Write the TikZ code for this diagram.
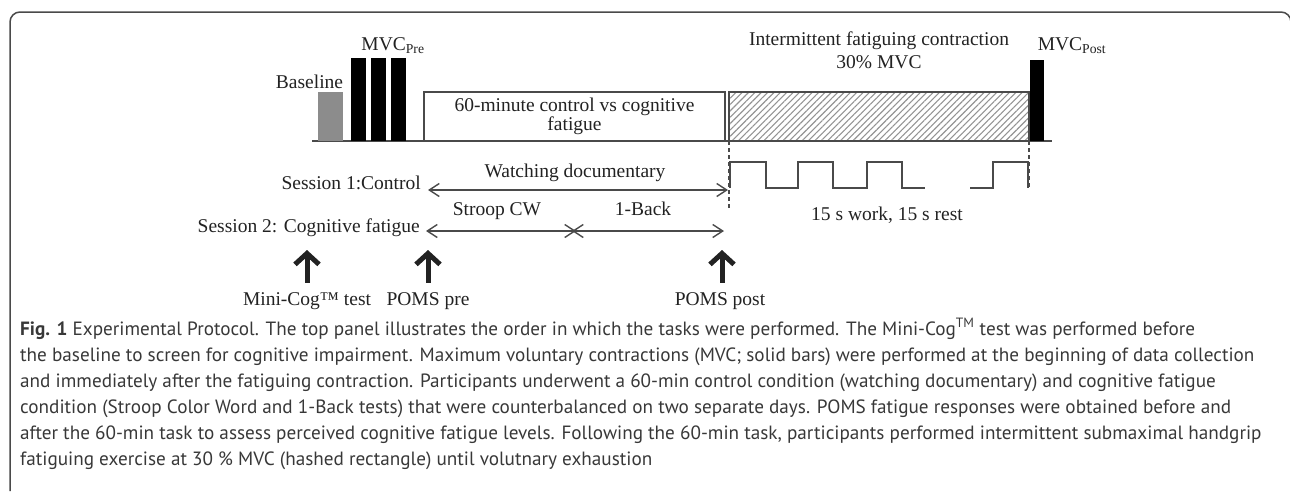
\documentclass[tikz,border=0pt]{standalone}
\usepackage{fontspec}
\setmainfont{Liberation Serif}
\newfontfamily\capfont{PT Sans}
\usetikzlibrary{arrows.meta,patterns.meta,positioning}
\definecolor{ink}{HTML}{222222}
\definecolor{linegray}{HTML}{4A4A4A}
\definecolor{basegray}{HTML}{8C8C8C}
\tikzset{
  lbl/.style={inner sep=0pt,text=ink,font=\fontsize{19.5}{19}\selectfont},
  taskbox/.style={draw=linegray,line width=1.4pt,inner sep=0pt},
  hatchbox/.style={taskbox,pattern={Lines[angle=45,distance=4.5pt,line width=1.1pt]},pattern color=gray!85},
  span/.style={{Straight Barb[length=10pt,width=13pt]}-{Straight Barb[length=10pt,width=13pt]},draw=linegray,line width=1.4pt},
  up/.style={-{Straight Barb[length=11pt,width=24pt]},line width=5pt,draw=ink},
  marker/.style={draw=linegray,line width=1.4pt,dash pattern=on 4pt off 3pt},
  capt/.style={inner sep=0pt,text=ink!90,align=left,font=\capfont\fontsize{19.2}{26}\selectfont},
}
\begin{document}
\begin{tikzpicture}[x=1pt,y=-1pt]
\useasboundingbox (0,0) rectangle (1290,491);
\draw[linegray,line width=1.5pt,rounded corners=10pt] (10,491) -- (10,12) -- (1291,12) -- (1291,40);
\draw[linegray,line width=1.4pt] (312,141) -- (1052,141);
\fill[basegray] (318,92) rectangle (343,141);
\foreach \x in {351,371,391}
  \fill[black] (\x,58) rectangle ++(15,83);
\fill[black] (1030,60) rectangle (1044,141);
\node[lbl,anchor=base] (baseline) at (309.5,88) {Baseline};
\node[lbl,anchor=base] (mvcpre) at (393,50) {MVC\textsubscript{Pre}};
\node[lbl,anchor=base] (mvcpost) at (1072,50) {MVC\textsubscript{Post}};
\node[taskbox,lbl,minimum width=301pt,minimum height=49pt,align=center] (task) at (574.5,116.5) {60-minute control vs cognitive\\fatigue};
\node[hatchbox,minimum width=300pt,minimum height=49pt] (fatiguing) at (879,116.5) {};
\node[lbl,align=center] (ifc) at (879,50) {Intermittent fatiguing contraction\\[4pt]30\% MVC};
\coordinate (startA) at (729,141);
\coordinate (endA) at (729,208);
\coordinate (startB) at (1029,141);
\coordinate (endB) at (1029,188);
\draw[marker] (startA) -- (endA);
\draw[marker] (startB) -- (endB);
\draw[linegray,line width=1.4pt] (730,188) -- (730,162) -- (766,162) -- (766,188) -- (798,188) -- (798,162)
  -- (833,162) -- (833,188) -- (867,188) -- (867,162) -- (902,162) -- (902,188) -- (925,188);
\draw[linegray,line width=1.4pt] (970,188) -- (993,188) -- (993,162) -- (1028,162) -- (1028,188);
\node[lbl,anchor=base] (work) at (887,220) {15 s work, 15 s rest};
\node[lbl,anchor=base east] (s1) at (421,189) {Session 1:Control};
\node[lbl,anchor=base east] (s2) at (420,232) {Session 2: Cognitive fatigue};
\coordinate (watchL) at (428,190);
\coordinate (watchR) at (728,190);
\coordinate (stroopL) at (426,231);
\coordinate (stroopR) at (576,231);
\coordinate (backL) at (572,231);
\coordinate (backR) at (724,231);
\draw[span] (watchL) -- (watchR);
\draw[span] (stroopL) -- (stroopR);
\draw[span] (backL) -- (backR);
\node[lbl,anchor=base] (watch) at (575,177) {Watching documentary};
\node[lbl,anchor=base] (stroop) at (497,215) {Stroop CW};
\node[lbl,anchor=base] (back) at (643,215) {1-Back};
\node[lbl,anchor=base] (minicog) at (307,305) {Mini-Cog™ test};
\node[lbl,anchor=base] (pomspre) at (428,305) {POMS pre};
\node[lbl,anchor=base] (pomspost) at (720,305) {POMS post};
\coordinate (tipA) at (307,250);
\coordinate (tipB) at (428,250);
\coordinate (tipC) at (722,250);
\draw[up,shorten <=9pt] (minicog.north) -- (tipA);
\draw[up,shorten <=9pt] (pomspre.north) -- (tipB);
\draw[up,shorten <=9pt] (pomspost.north -| tipC) -- (tipC);
\node[capt,anchor=north west] (caption) at (20,318) {\textbf{Fig. 1} Experimental Protocol. The top panel illustrates the order in which the tasks were performed. The Mini-Cog\textsuperscript{TM} test was performed before\\
the baseline to screen for cognitive impairment. Maximum voluntary contractions (MVC; solid bars) were performed at the beginning of data collection\\
and immediately after the fatiguing contraction. Participants underwent a 60-min control condition (watching documentary) and cognitive fatigue\\
condition (Stroop Color Word and 1-Back tests) that were counterbalanced on two separate days. POMS fatigue responses were obtained before and\\
after the 60-min task to assess perceived cognitive fatigue levels. Following the 60-min task, participants performed intermittent submaximal handgrip\\
fatiguing exercise at 30 \% MVC (hashed rectangle) until volutnary exhaustion};
\end{tikzpicture}
\end{document}
